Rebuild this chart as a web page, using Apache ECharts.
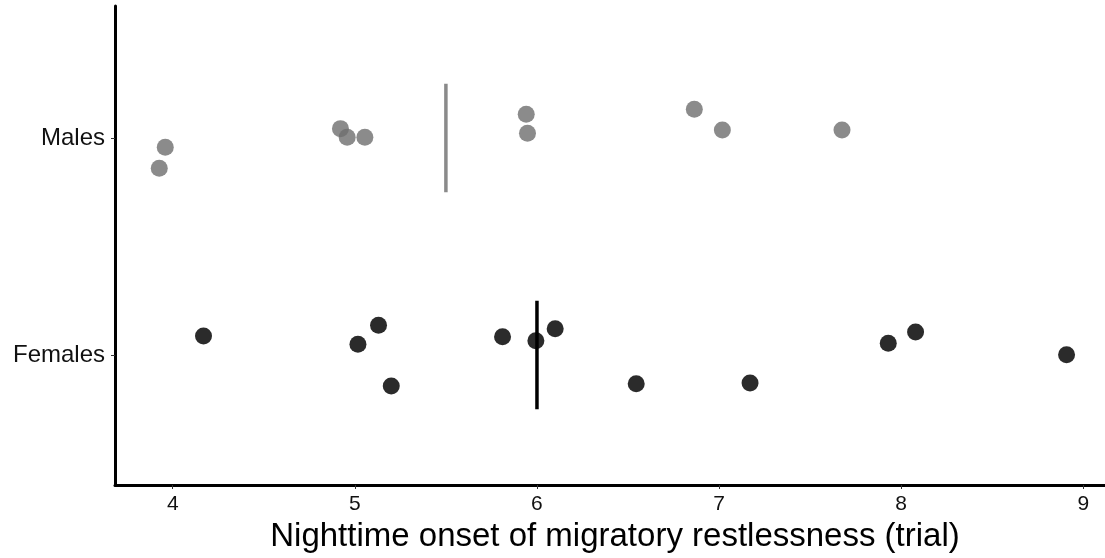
<!DOCTYPE html>
<html>
<head>
<meta charset="utf-8">
<title>Nighttime onset of migratory restlessness</title>
<script src="https://cdn.jsdelivr.net/npm/echarts@6/dist/echarts.min.js"></script>
<style>
  html, body { margin: 0; padding: 0; background: #fff; }
  #chart { width: 1105px; height: 558px; }
</style>
</head>
<body>
<div id="chart"></div>
<script>
// Groups on the vertical axis (1 = Females, 2 = Males)
const groups = ['Females', 'Males'];
const xTicks = [4, 5, 6, 7, 8, 9];

// Onset trial per bird, with the vertical jitter used to spread the dots
const maleOnset  = [3.959, 3.926, 4.921, 4.958, 5.055, 5.941, 5.948, 6.864, 7.018, 7.675];
const maleJitter = [1.957, 1.860, 2.043, 2.003, 2.003, 2.109, 2.022, 2.132, 2.037, 2.037];

const femaleOnset  = [4.169, 5.130, 5.017, 5.200, 5.811, 5.994, 6.100, 6.545, 7.170, 7.929, 8.079, 8.908];
const femaleJitter = [1.088, 1.137, 1.049, 0.857, 1.084, 1.066, 1.121, 0.868, 0.871, 1.054, 1.106, 1.001];

// Group medians (Females, Males)
const groupMedians = [6.0, 5.5];

const pairs = (xs, ys) => xs.map((x, i) => [x, ys[i]]);
const medianBar = (m, g) => [[m, g - 0.25], [m, g + 0.25]];

const FONT = '"Liberation Sans", Arial, sans-serif';

const chart = echarts.init(document.getElementById('chart'), null, { renderer: 'canvas' });

chart.setOption({
  animation: false,
  backgroundColor: '#ffffff',
  grid: {
    left: 115, right: -10, top: 6, bottom: 73,
    outerBoundsMode: 'none',
    containLabel: false
  },
  xAxis: {
    type: 'value',
    min: 3.683,
    max: 9.174,
    name: 'Nighttime onset of migratory restlessness (trial)',
    nameLocation: 'middle',
    nameGap: 35,
    nameTextStyle: { fontFamily: FONT, fontSize: 33, color: '#000' },
    splitLine: { show: false },
    axisLine: { show: true, onZero: false, lineStyle: { color: '#000', width: 3 } },
    axisTick: { show: true, length: 4, customValues: xTicks, lineStyle: { color: '#333', width: 1 } },
    axisLabel: {
      customValues: xTicks,
      margin: 9,
      fontFamily: FONT, fontSize: 21, color: '#111',
      formatter: v => String(v)
    }
  },
  yAxis: {
    type: 'value',
    min: 0.401,
    max: 2.608,
    splitLine: { show: false },
    axisLine: { show: true, onZero: false, lineStyle: { color: '#000', width: 3 } },
    axisTick: { show: true, length: 4, customValues: [1, 2], lineStyle: { color: '#333', width: 1 } },
    axisLabel: {
      customValues: [1, 2],
      margin: 10,
      fontFamily: FONT, fontSize: 24, color: '#111',
      formatter: v => groups[Math.round(v) - 1]
    }
  },
  series: [
    {
      name: 'Males',
      type: 'scatter',
      symbolSize: 17,
      itemStyle: { color: 'rgba(110,110,110,0.8)', opacity: 1 },
      data: pairs(maleOnset, maleJitter)
    },
    {
      name: 'Females',
      type: 'scatter',
      symbolSize: 17,
      itemStyle: { color: 'rgba(0,0,0,0.83)', opacity: 1 },
      data: pairs(femaleOnset, femaleJitter)
    },
    {
      name: 'Males median',
      type: 'line',
      symbol: 'none',
      lineStyle: { color: '#8a8a8a', width: 3.5, cap: 'butt' },
      data: medianBar(groupMedians[1], 2)
    },
    {
      name: 'Females median',
      type: 'line',
      symbol: 'none',
      lineStyle: { color: '#000', width: 3.5, cap: 'butt' },
      data: medianBar(groupMedians[0], 1)
    }
  ]
});
</script>
</body>
</html>
